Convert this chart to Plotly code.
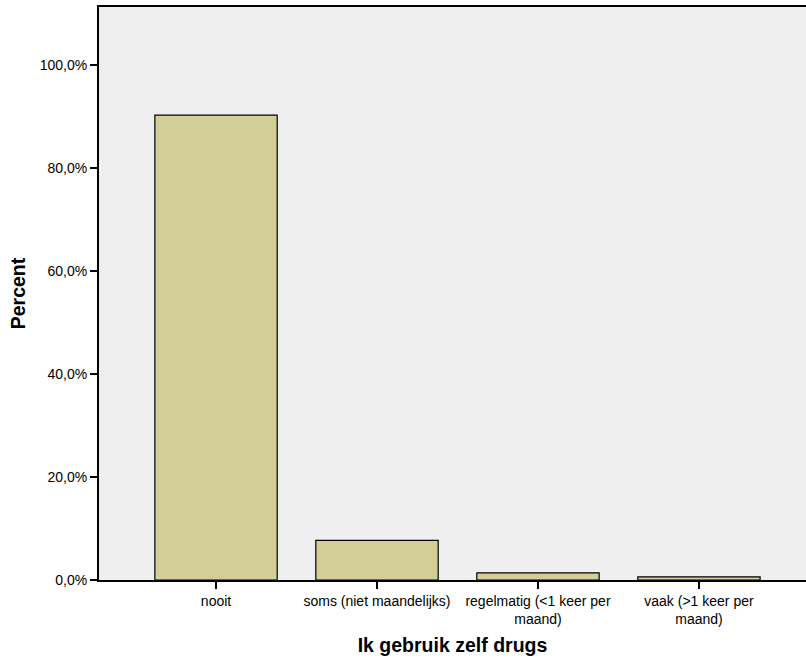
import plotly.graph_objects as go

categories = ["nooit", "soms (niet maandelijks)", "regelmatig (<1 keer per maand)", "vaak (>1 keer per maand)"]
tick_labels = ["nooit", "soms (niet maandelijks)", "regelmatig (&lt;1 keer per<br>maand)", "vaak (&gt;1 keer per<br>maand)"]
percent = [90.3, 7.7, 1.4, 0.6]
y_tick_values = [0, 20, 40, 60, 80, 100]
y_tick_labels = ["0,0%", "20,0%", "40,0%", "60,0%", "80,0%", "100,0%"]

fig = go.Figure(go.Bar(
    x=list(range(len(categories))),
    y=percent,
    width=0.76,
    marker=dict(color="#D3CE97", line=dict(color="black", width=1.2)),
    hovertext=categories,
))

fig.update_layout(
    width=806, height=658,
    margin=dict(l=99, r=0, t=7, b=78),
    paper_bgcolor="white",
    plot_bgcolor="#EFEFEF",
    separators=",.",
    font=dict(family="Liberation Sans, Arial, sans-serif", size=14, color="black"),
    showlegend=False,
    xaxis=dict(
        range=[-0.727, 3.665],
        tickmode="array",
        tickvals=list(range(len(categories))),
        ticktext=tick_labels,
        ticks="outside", ticklen=7, tickwidth=2, tickcolor="black",
        showline=True, linewidth=2, linecolor="black", mirror=True,
        showgrid=False, zeroline=False,
        title=dict(text="<b>Ik gebruik zelf drugs</b>", font=dict(size=19.5), standoff=12),
    ),
    yaxis=dict(
        range=[0, 111.3],
        tickmode="array",
        tickvals=y_tick_values,
        ticktext=y_tick_labels,
        ticks="outside", ticklen=7, tickwidth=2, tickcolor="black",
        showline=True, linewidth=2, linecolor="black",
        showgrid=False, zeroline=False,
        title=dict(text="<b>Percent</b>", font=dict(size=19.5), standoff=9),
    ),
)

fig.write_html("out.html", config={"displayModeBar": False},
               post_script="document.body.style.margin='0';document.body.style.padding='0';")
